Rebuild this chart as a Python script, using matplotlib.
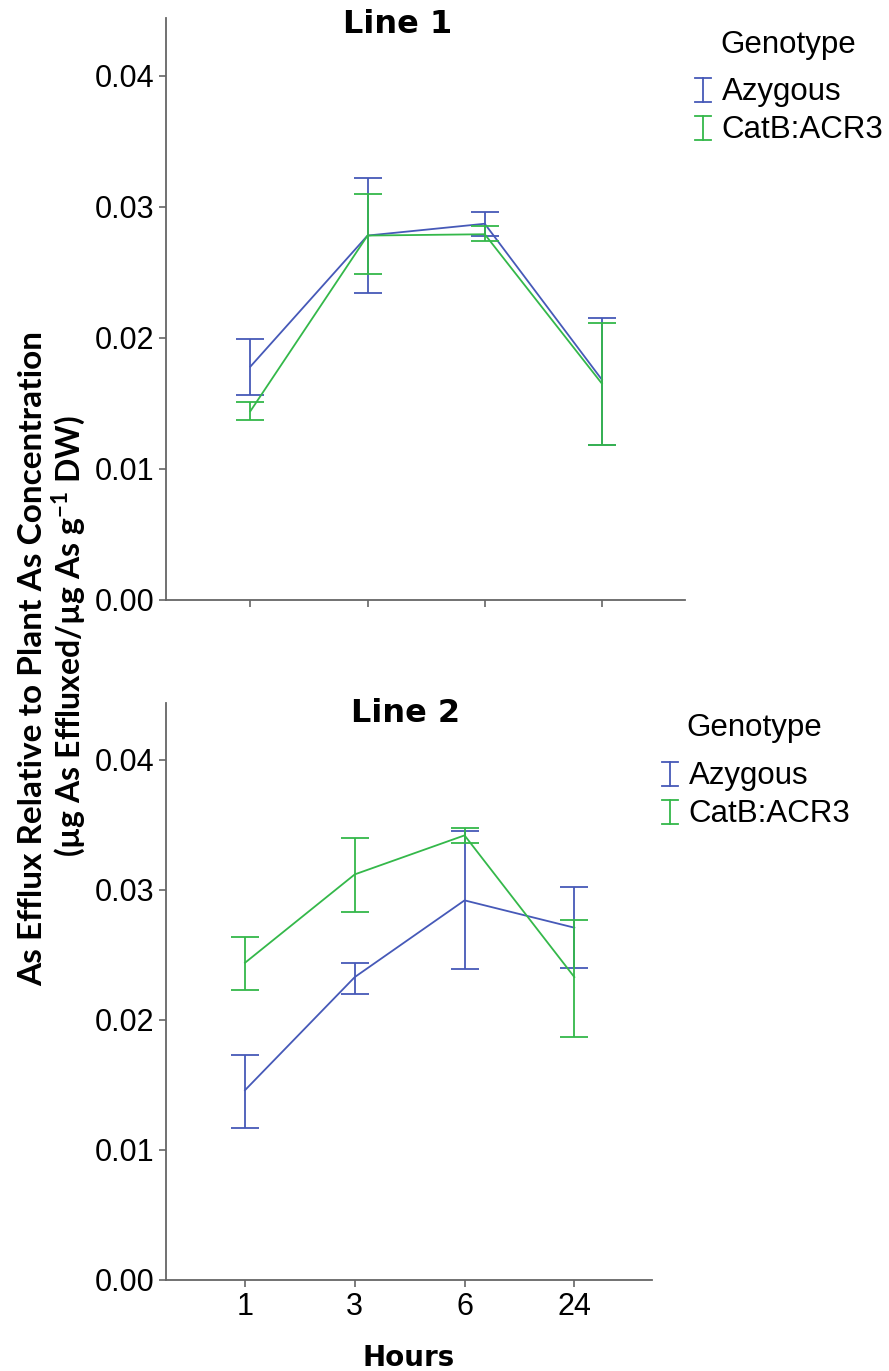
import matplotlib.pyplot as plt
from matplotlib.legend_handler import HandlerBase
from matplotlib.lines import Line2D

plt.rcParams['font.family'] = ['Liberation Sans', 'DejaVu Sans']
plt.rcParams['mathtext.fontset'] = 'custom'
plt.rcParams['mathtext.rm'] = 'Lato'
plt.rcParams['mathtext.bf'] = 'Lato:bold'

hours = ["1", "3", "6", "24"]
genotypes = ["Azygous", "CatB:ACR3"]
colors = ["#4659b8", "#34b84a"]

# Line 1: means with upper / lower error limits
line1_mean = {"Azygous": [0.0178, 0.0278, 0.0287, 0.0168],
              "CatB:ACR3": [0.0144, 0.0278, 0.0279, 0.0165]}
line1_upper = {"Azygous": [0.0199, 0.0322, 0.0296, 0.0215],
               "CatB:ACR3": [0.0151, 0.0310, 0.0285, 0.0211]}
line1_lower = {"Azygous": [0.0156, 0.0234, 0.0278, 0.0118],
               "CatB:ACR3": [0.0137, 0.0249, 0.0274, 0.0118]}

# Line 2
line2_mean = {"Azygous": [0.0146, 0.0233, 0.0292, 0.0271],
              "CatB:ACR3": [0.0244, 0.0312, 0.0342, 0.0233]}
line2_upper = {"Azygous": [0.0173, 0.0244, 0.0345, 0.0302],
               "CatB:ACR3": [0.0264, 0.0340, 0.0348, 0.0277]}
line2_lower = {"Azygous": [0.0117, 0.0220, 0.0239, 0.0240],
               "CatB:ACR3": [0.0223, 0.0283, 0.0336, 0.0187]}


class IBeamHandler(HandlerBase):
    """Legend key drawn as a small capped error bar."""

    def create_artists(self, legend, orig_handle, xdescent, ydescent,
                       width, height, fontsize, trans):
        color = orig_handle.get_color()
        lw = orig_handle.get_linewidth()
        xc = width / 2 - xdescent
        y0 = -ydescent - 0.15 * height
        y1 = -ydescent + 1.05 * height
        parts = [([xc, xc], [y0, y1]),
                 ([0 - xdescent, width - xdescent], [y0, y0]),
                 ([0 - xdescent, width - xdescent], [y1, y1])]
        arts = []
        for xs, ys in parts:
            ln = Line2D(xs, ys, color=color, lw=lw)
            ln.set_transform(trans)
            arts.append(ln)
        return arts


fig = plt.figure(figsize=(8.89, 13.71), dpi=100)
ax1 = fig.add_axes([0.1867, 0.5624, 0.584, 0.4245])
ax2 = fig.add_axes([0.1867, 0.0664, 0.547, 0.421])


def draw_panel(ax, mean, upper, lower, title, title_x, title_y):
    x = list(range(len(hours)))
    handles = []
    for g, c in zip(genotypes, colors):
        m = mean[g]
        err = [[mi - lo for mi, lo in zip(m, lower[g])],
               [up - mi for mi, up in zip(m, upper[g])]]
        ln, = ax.plot(x, m, color=c, lw=1.3)
        ax.errorbar(x, m, yerr=err, fmt="none", ecolor=c,
                    elinewidth=1.3, capsize=10, capthick=1.3)
        handles.append(ln)
    ax.set_xlim(-0.72, 3.71)
    ax.set_ylim(0, 0.0444)
    ax.set_yticks([0, 0.01, 0.02, 0.03, 0.04])
    ax.set_yticklabels(["0.00", "0.01", "0.02", "0.03", "0.04"])
    ax.set_xticks(x)
    for side in ["top", "right"]:
        ax.spines[side].set_visible(False)
    for side in ["left", "bottom"]:
        ax.spines[side].set_color("#666666")
        ax.spines[side].set_linewidth(1.3)
    ax.tick_params(axis="both", colors="#666666", labelcolor="black",
                   labelsize=22, length=5, width=1.2)
    ax.text(title_x, title_y, title, transform=ax.transAxes, ha="center",
            va="center", fontsize=23, fontweight="bold",
            family="DejaVu Sans")
    return handles


h1 = draw_panel(ax1, line1_mean, line1_upper, line1_lower,
                "Line 1", 0.447, 0.989)
ax1.set_xticklabels([])
h2 = draw_panel(ax2, line2_mean, line2_upper, line2_lower,
                "Line 2", 0.492, 0.981)
ax2.set_xticklabels(hours)
ax2.set_xlabel("Hours", fontsize=20, fontweight="bold",
               family="DejaVu Sans", labelpad=16)

# genotype legends to the right of each panel
for hs, lx, ly, tx, ty in [(h1, 0.782, 0.919, 0.81, 0.967),
                           (h2, 0.745, 0.42, 0.772, 0.469)]:
    fig.legend(handles=hs, labels=genotypes, loc="center left",
               bbox_to_anchor=(lx, ly), bbox_transform=fig.transFigure,
               frameon=False, fontsize=22.5, handlelength=0.5,
               handleheight=0.6, handletextpad=0.35, labelspacing=0.26,
               borderpad=0, borderaxespad=0,
               handler_map={Line2D: IBeamHandler()})
    fig.text(tx, ty, "Genotype", ha="left", va="center", fontsize=22.5)

fig.text(0.037, 0.52,
         "As Efflux Relative to Plant As Concentration",
         rotation=90, ha="center", va="center", fontsize=24,
         fontweight="bold", family="Lato")
fig.text(0.078, 0.536,
         r"(µg As Effluxed/µg As g$^{\mathbf{-1}}$ DW)",
         rotation=90, ha="center", va="center", fontsize=23,
         fontweight="bold", family="Lato")

fig.savefig("out.png", dpi=100)
